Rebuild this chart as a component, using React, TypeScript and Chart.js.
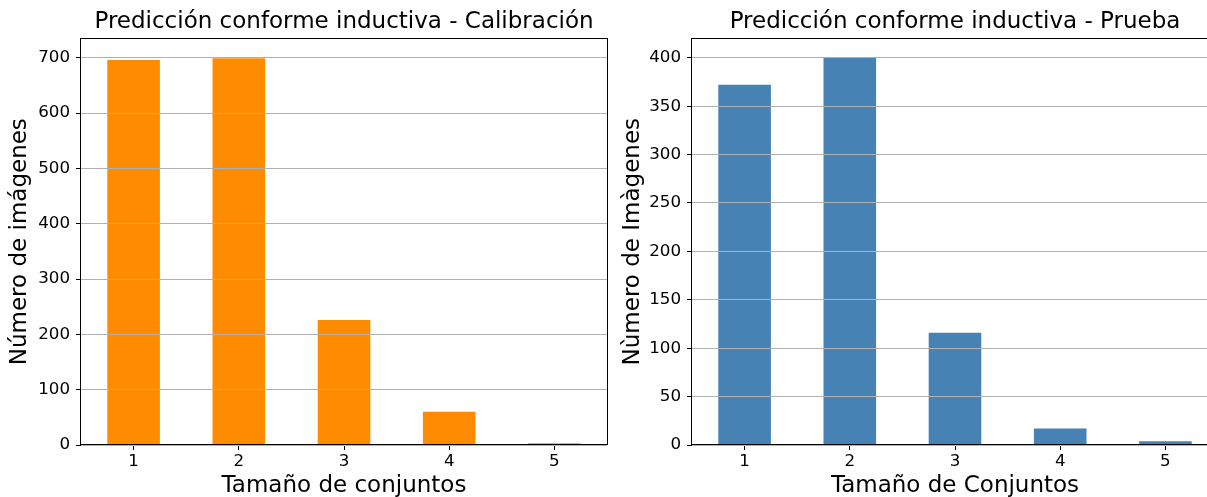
import React, { useEffect, useRef } from "react";
import { Chart, registerables } from "chart.js";

Chart.register(...registerables);

// ---- data ----
const categories = ["1", "2", "3", "4", "5"];
const calibrationCounts = [696, 699, 226, 60, 3];
const testCounts = [372, 400, 116, 17, 4];

const calibrationTitle = "Predicción conforme inductiva - Calibración";
const testTitle = "Predicción conforme inductiva - Prueba";
const calibrationYLabel = "Número de imágenes";
const testYLabel = "Nùmero de Imàgenes";
const calibrationXLabel = "Tamaño de conjuntos";
const testXLabel = "Tamaño de Conjuntos";

const FONT = "'DejaVu Sans', sans-serif";

const framePlugin = {
  id: "frame",
  afterDraw(chart: any) {
    const { ctx, chartArea } = chart;
    const { left, top, right, bottom } = chartArea;
    const x0 = Math.round(left) - 0.5;
    const x1 = Math.round(right) + 0.5;
    const y0 = Math.round(top) + 0.5;
    const y1 = Math.round(bottom) - 0.5;
    ctx.save();
    ctx.strokeStyle = "#000";
    ctx.lineWidth = 1;
    ctx.strokeRect(x0, y0, x1 - x0, y1 - y0);
    ctx.restore();
  },
};

type PanelProps = {
  left: number;
  width: number;
  height: number;
  axisWidth: number;
  padRight: number;
  values: number[];
  color: string;
  yMax: number;
  step: number;
  title: string;
  yLabel: string;
  xLabel: string;
  yTitlePad: number;
};

function Panel(p: PanelProps) {
  const ref = useRef<HTMLCanvasElement | null>(null);
  useEffect(() => {
    if (!ref.current) return;
    const chart = new Chart(ref.current, {
      type: "bar",
      data: {
        labels: categories,
        datasets: [
          {
            data: p.values,
            backgroundColor: p.color,
            borderWidth: 0,
            barPercentage: 0.5,
            categoryPercentage: 1.0,
          },
        ],
      },
      options: {
        animation: false,
        responsive: false,
        devicePixelRatio: 1,
        layout: { padding: { left: 0, right: p.padRight, top: 0, bottom: 0 } },
        plugins: {
          legend: { display: false },
          tooltip: { enabled: false },
          title: {
            display: true,
            text: p.title,
            fullSize: false,
            color: "#000",
            font: { family: FONT, size: 23, weight: "normal" },
            padding: { top: 8.5, bottom: 2.3 },
          },
        },
        scales: {
          x: {
            offset: true,
            grid: {
              display: true,
              offset: false,
              drawOnChartArea: false,
              drawTicks: true,
              tickLength: 5,
              tickColor: "#000",
            },
            border: { display: false },
            ticks: {
              color: "#000",
              font: { family: FONT, size: 16.7 },
              padding: 2,
              maxRotation: 0,
            },
            title: {
              display: true,
              text: p.xLabel,
              color: "#000",
              font: { family: FONT, size: 23 },
              padding: { top: 0, bottom: 10 },
            },
            afterFit(scale: any) {
              scale.height = p.height - 445;
            },
          },
          y: {
            min: 0,
            max: p.yMax,
            grid: {
              display: true,
              color: "#b0b0b0",
              lineWidth: 1,
              tickColor: "#000",
              tickLength: 5,
              z: 1,
            },
            border: { display: false },
            ticks: {
              stepSize: p.step,
              includeBounds: false,
              color: "#000",
              font: { family: FONT, size: 16.7 },
              padding: 6,
            },
            title: {
              display: true,
              text: p.yLabel,
              color: "#000",
              font: { family: FONT, size: 23 },
              padding: { top: p.yTitlePad, bottom: 0 },
            },
            afterFit(scale: any) {
              scale.width = p.axisWidth;
            },
          },
        },
      },
      plugins: [framePlugin],
    } as any);
    return () => chart.destroy();
  }, []);
  return (
    <canvas
      ref={ref}
      width={p.width}
      height={p.height}
      style={{ position: "absolute", left: p.left, top: 0, width: p.width, height: p.height }}
    />
  );
}

export default function App() {
  return (
    <div
      style={{
        position: "fixed",
        left: 0,
        top: 0,
        width: 1207,
        height: 497,
        overflow: "hidden",
        background: "#fff",
      }}
    >
      <Panel
        left={0}
        width={620}
        height={510}
        axisWidth={81}
        padRight={13}
        values={calibrationCounts}
        color="#ff8c00"
        yMax={735}
        step={100}
        title={calibrationTitle}
        yLabel={calibrationYLabel}
        xLabel={calibrationXLabel}
        yTitlePad={6}
      />
      <Panel
        left={610}
        width={620}
        height={510}
        axisWidth={82}
        padRight={12}
        values={testCounts}
        color="#4682b4"
        yMax={420}
        step={50}
        title={testTitle}
        yLabel={testYLabel}
        xLabel={testXLabel}
        yTitlePad={9}
      />
    </div>
  );
}
